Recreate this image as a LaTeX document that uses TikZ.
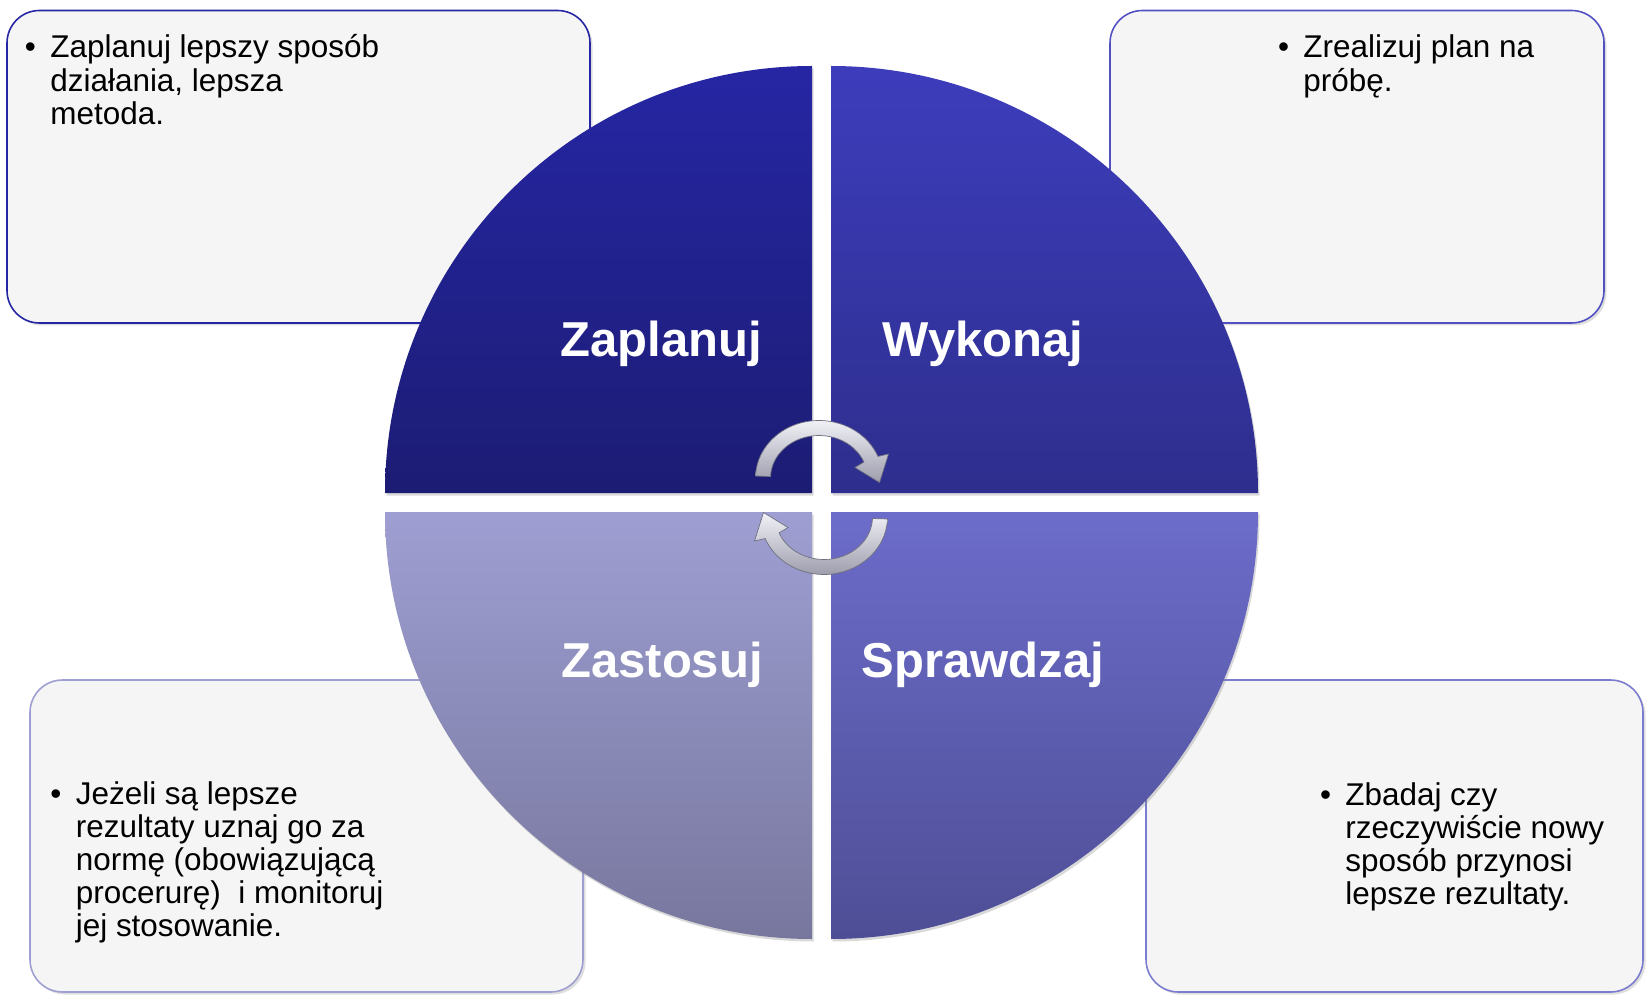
\documentclass[tikz,border=0pt]{standalone}
\usepackage{fontspec}
\setmainfont{Liberation Sans}
\usetikzlibrary{shadows}

\definecolor{planTop}{HTML}{2626A4}
\definecolor{planBot}{HTML}{1C1C74}
\definecolor{doTop}{HTML}{3D3DBC}
\definecolor{doBot}{HTML}{2E2E8E}
\definecolor{actTop}{HTML}{9E9ED2}
\definecolor{actBot}{HTML}{77779E}
\definecolor{checkTop}{HTML}{6C6CCA}
\definecolor{checkBot}{HTML}{4E4E96}
\definecolor{boxgray}{HTML}{F5F5F5}
\definecolor{arrowLight}{HTML}{F2F2F8}
\definecolor{arrowDark}{HTML}{9C9CAC}
\definecolor{arrowEdge}{HTML}{707080}

\newcommand{\boxlines}[1]{\parbox[t]{8cm}{\raggedright #1}}

\tikzset{cyclearrow/.pic={
  \path[top color=arrowLight,bottom color=arrowDark,draw=arrowEdge,line width=0.4pt]
    (178:1.27 and 1.15) arc[start angle=178,end angle=22,x radius=1.27,y radius=1.15]
    -- (1.39,0.48) -- (1.21,-0.09) -- (0.72,0.21) -- (22:0.97 and 0.85)
    arc[start angle=22,end angle=178,x radius=0.97,y radius=0.85] -- cycle;
}}

\begin{document}
\begin{tikzpicture}
  [every node/.style={inner sep=0pt},
   infobox/.style={rounded corners=0.65cm,fill=boxgray,line width=0.9pt,
     drop shadow={opacity=0.25,shadow xshift=0.05cm,shadow yshift=-0.05cm}},
   stage/.style={font=\fontsize{27.9}{30}\selectfont\bfseries,text=white,anchor=base},
   desc/.style={font=\fontsize{17.9}{18.8}\selectfont,anchor=base west},
   dot/.style={font=\fontsize{17.9}{18.8}\selectfont,anchor=base}]
  \useasboundingbox (0,0) rectangle (32.92,19.88);

  % boxes behind the circle
  \draw[infobox,draw=planTop]           (0.14,13.42) rectangle (11.80,19.67);
  \draw[infobox,draw=doTop!90!white]    (22.20,13.42) rectangle (32.08,19.67);
  \draw[infobox,draw=actTop]            (0.60,0.04) rectangle (11.66,6.28);
  \draw[infobox,draw=checkTop!90!white] (22.92,0.04) rectangle (32.86,6.28);

  % four quarters
  \foreach \cx/\cy/\a/\b/\tc/\bc in {16.24/10.02/90/180/planTop/planBot,
      16.62/10.02/0/90/doTop/doBot,16.24/9.64/180/270/actTop/actBot,
      16.62/9.64/270/360/checkTop/checkBot}
    \path[top color=\tc,bottom color=\bc,
      drop shadow={opacity=0.3,shadow xshift=0.03cm,shadow yshift=-0.05cm}]
      (\cx,\cy) -- ++(\a:8.54) arc (\a:\b:8.54) -- cycle;

  \node (plan)  [stage] at (13.22,12.74) {Zaplanuj};
  \node (do)    [stage] at (19.66,12.74) {Wykonaj};
  \node (act)   [stage] at (13.24,6.34)  {Zastosuj};
  \node (check) [stage] at (19.66,6.34)  {Sprawdzaj};

  \pic at (16.38,10.32) {cyclearrow};
  \pic[rotate=180] at (16.48,9.54) {cyclearrow};

  % texts in the boxes
  \node (plantext)  [desc] at (1.00,18.72) {\boxlines{Zaplanuj lepszy sposób\\działania, lepsza\\metoda.}};
  \node (plandot)   [dot]  at (0.61,18.72) {\textbullet};
  \node (dotext)    [desc] at (26.06,18.72) {\boxlines{Zrealizuj plan na\\próbę.}};
  \node (dodot)     [dot]  at (25.67,18.72) {\textbullet};
  \node (acttext)   [desc] at (1.51,3.80) {\boxlines{Jeżeli są lepsze\\rezultaty uznaj go za\\normę (obowiązującą\\procerurę)~ i monitoruj\\jej stosowanie.}};
  \node (actdot)    [dot]  at (1.12,3.80) {\textbullet};
  \node (checktext) [desc] at (26.90,3.78) {\boxlines{Zbadaj czy\\rzeczywiście nowy\\sposób przynosi\\lepsze rezultaty.}};
  \node (checkdot)  [dot]  at (26.51,3.78) {\textbullet};
\end{tikzpicture}
\end{document}
